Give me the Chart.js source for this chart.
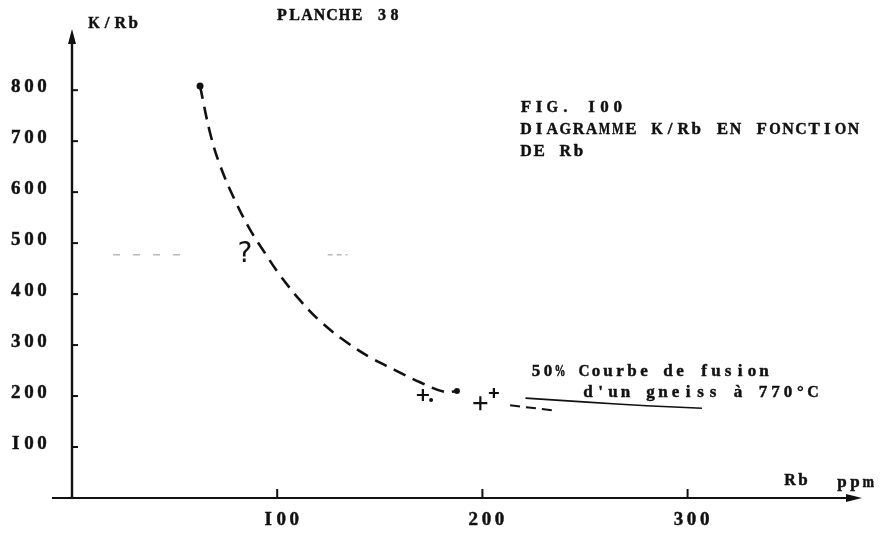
<!DOCTYPE html>
<html>
<head>
<meta charset="utf-8">
<script src="https://cdn.jsdelivr.net/npm/chart.js@4.4.1/dist/chart.umd.min.js"></script>
<style>
  html, body { margin: 0; padding: 0; background: #ffffff; }
  #wrap { width: 881px; height: 535px; }
</style>
</head>
<body>
<div id="wrap"><canvas id="c" width="881" height="535"></canvas></div>
<script>
// Axis ticks
const xTickValues = [100, 200, 300];
const xTickLabels = ['I00', '200', '300'];
const yTickValues = [100, 200, 300, 400, 500, 600, 700, 800];
const yTickLabels = ['I00', '200', '300', '400', '500', '600', '700', '800'];

// Dashed K/Rb trend (Rb ppm, K/Rb)
const curveRb  = [62.4, 67.3, 72.1, 79.4, 86.7, 94.1, 101.4, 111.1, 120.9, 133.0, 145.2, 157.4, 169.6, 181.8, 187.6];
const curveKRb = [808, 716, 653, 584, 527, 480, 437, 388, 347, 308, 276, 251, 227, 208, 210];

// Short dashed continuation beyond the crosses
const tailRb  = [213.5, 236];
const tailKRb = [182, 171];

// Solid line: 50% melting curve of a gneiss at 770°C
const meltRb  = [221, 251, 280, 307];
const meltKRb = [196, 188, 181, 176];

// Samples plotted as crosses
const crossRb  = [171, 199, 205.6];
const crossKRb = [202, 186, 206];
const crossSize = [6, 7, 5];

// Samples plotted as dots
const dotRb  = [62.4, 187.6, 175];
const dotKRb = [808, 210, 192];
const dotSize = [3.5, 3, 2];

// Faint horizontal trace near K/Rb 480
const faintRbA = [20, 55];
const faintRbB = [124.6, 134.3];
const faintKRb = 477;

const pts = (xs, ys) => xs.map((x, i) => ({ x: x, y: Array.isArray(ys) ? ys[i] : ys }));

const INK = '#111111';
const TYPE = '"Liberation Serif", "DejaVu Serif", serif';
const CELL = 10;
const MAX_GLYPH = 11.5;

// Typewriter-style text: every character sits in a cell of fixed pitch,
// wide glyphs are squeezed so they do not run into their neighbours.
function typeText(ctx, text, x, y, pitch, font, align) {
  ctx.save();
  ctx.font = font;
  ctx.textAlign = 'center';
  ctx.textBaseline = 'middle';
  ctx.fillStyle = INK;
  ctx.strokeStyle = INK;
  ctx.lineWidth = 0.45;
  const span = (text.length - 1) * pitch + CELL;
  let sx = x;
  if (align === 'center') sx = x - span / 2;
  if (align === 'right') sx = x - span;
  const limit = Math.min(MAX_GLYPH, pitch - 1);
  for (let i = 0; i < text.length; i++) {
    const ch = text[i];
    if (ch === ' ') continue;
    const cx = sx + CELL / 2 + i * pitch;
    const w = ctx.measureText(ch).width;
    const k = w > limit ? limit / w : 1;
    ctx.save();
    ctx.translate(cx, y);
    ctx.scale(k, 1);
    ctx.fillText(ch, 0, 0);
    ctx.strokeText(ch, 0, 0);
    ctx.restore();
  }
  ctx.restore();
}

const axesPlugin = {
  id: 'handAxes',
  afterDatasetsDraw(chart) {
    const ctx = chart.ctx;
    const xs = chart.scales.x, ys = chart.scales.y;
    const x0 = xs.getPixelForValue(0);
    const y0 = ys.getPixelForValue(0);
    const xEnd = xs.getPixelForValue(xs.max);
    const yEnd = ys.getPixelForValue(ys.max);
    ctx.save();
    ctx.strokeStyle = INK;
    ctx.fillStyle = INK;
    ctx.lineCap = 'butt';

    // x axis with arrow
    ctx.lineWidth = 2;
    ctx.beginPath();
    ctx.moveTo(x0 - 20, y0);
    ctx.lineTo(xEnd - 10, y0);
    ctx.stroke();
    ctx.beginPath();
    ctx.moveTo(xEnd, y0);
    ctx.lineTo(xEnd - 16, y0 - 4);
    ctx.lineTo(xEnd - 16, y0 + 4);
    ctx.closePath();
    ctx.fill();

    // y axis with arrow
    ctx.lineWidth = 2.4;
    ctx.beginPath();
    ctx.moveTo(x0, y0 + 1);
    ctx.lineTo(x0, yEnd + 10);
    ctx.stroke();
    ctx.beginPath();
    ctx.moveTo(x0, yEnd);
    ctx.lineTo(x0 - 4, yEnd + 15);
    ctx.lineTo(x0 + 4, yEnd + 15);
    ctx.closePath();
    ctx.fill();

    // tick marks
    ctx.lineWidth = 2;
    xTickValues.forEach(v => {
      const px = xs.getPixelForValue(v);
      ctx.beginPath();
      ctx.moveTo(px, y0);
      ctx.lineTo(px, y0 - 9);
      ctx.stroke();
    });
    yTickValues.forEach(v => {
      const py = ys.getPixelForValue(v);
      ctx.beginPath();
      ctx.moveTo(x0, py);
      ctx.lineTo(x0 + 6, py);
      ctx.stroke();
    });

    const F = 'bold 17px ' + TYPE;
    const FN = 'bold 19px ' + TYPE;
    const P = 13.1;

    // tick labels
    xTickValues.forEach((v, i) => {
      typeText(ctx, xTickLabels[i], xs.getPixelForValue(v) + 4, y0 + 22, P, FN, 'center');
    });
    yTickValues.forEach((v, i) => {
      typeText(ctx, yTickLabels[i], x0 - 25, ys.getPixelForValue(v) - 3, P, FN, 'right');
    });

    // axis titles
    typeText(ctx, 'K/Rb', 89, 24, P, F, 'left');
    typeText(ctx, 'Rb', 785, 481, P, F, 'left');
    typeText(ctx, 'ppm', 837, 483, P, F, 'left');

    // headings
    typeText(ctx, 'PLANCHE 38', 277, 16, 12.5, 'bold 16px ' + TYPE, 'left');
    typeText(ctx, 'FIG. I00', 521, 108, P, F, 'left');
    typeText(ctx, 'DIAGRAMME K/Rb EN FONCTION', 521, 130, P, F, 'left');
    typeText(ctx, 'DE Rb', 521, 152, P, F, 'left');

    // curve annotations
    typeText(ctx, '50% Courbe de fusion', 531, 372, 12.0, F, 'left');
    typeText(ctx, "d'un gneiss à 770°C", 583, 393, 12.5, F, 'left');

    // question mark on the uncertain part of the trend
    ctx.font = '28px "DejaVu Sans", sans-serif';
    ctx.fillStyle = INK;
    ctx.textAlign = 'center';
    ctx.textBaseline = 'middle';
    ctx.fillText('?', xs.getPixelForValue(84.3), ys.getPixelForValue(478));
    ctx.restore();
  }
};

new Chart(document.getElementById('c'), {
  type: 'scatter',
  data: {
    datasets: [
      {
        data: pts(curveRb, curveKRb),
        showLine: true,
        borderColor: INK,
        borderWidth: 2.6,
        borderDash: [13, 8],
        tension: 0.4,
        pointRadius: 0
      },
      {
        data: pts(tailRb, tailKRb),
        showLine: true,
        borderColor: INK,
        borderWidth: 2,
        borderDash: [10, 6],
        pointRadius: 0
      },
      {
        data: pts(meltRb, meltKRb),
        showLine: true,
        borderColor: INK,
        borderWidth: 1.6,
        tension: 0.3,
        pointRadius: 0
      },
      {
        data: pts(faintRbA, faintKRb),
        showLine: true,
        borderColor: 'rgba(0,0,0,0.28)',
        borderWidth: 1.5,
        borderDash: [7, 13],
        pointRadius: 0
      },
      {
        data: pts(faintRbB, faintKRb),
        showLine: true,
        borderColor: 'rgba(0,0,0,0.28)',
        borderWidth: 1.5,
        borderDash: [5, 4],
        pointRadius: 0
      },
      {
        data: pts(crossRb, crossKRb),
        pointStyle: 'cross',
        pointRadius: crossSize,
        borderColor: INK,
        borderWidth: 2.2,
        backgroundColor: INK
      },
      {
        data: pts(dotRb, dotKRb),
        pointStyle: 'circle',
        pointRadius: dotSize,
        borderWidth: 0,
        backgroundColor: INK
      }
    ]
  },
  options: {
    responsive: false,
    animation: false,
    events: [],
    layout: { padding: { left: 72, right: 19, top: 29, bottom: 37 } },
    plugins: { legend: { display: false }, tooltip: { enabled: false } },
    scales: {
      x: { type: 'linear', min: 0, max: 385, display: false },
      y: { type: 'linear', min: 0, max: 920, display: false }
    }
  },
  plugins: [axesPlugin]
});
</script>
</body>
</html>
